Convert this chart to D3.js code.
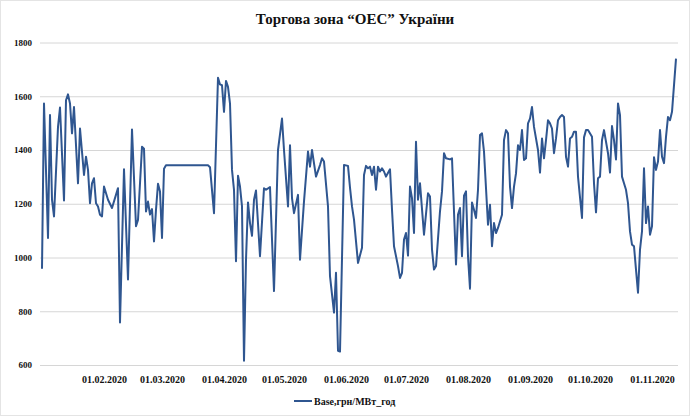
<!DOCTYPE html>
<html>
<head>
<meta charset=utf-8>
<title>Торгова зона ОЕС України</title>
<style>
body { margin: 0; background: #fff; }
svg { display: block; font-family: "Liberation Serif", "DejaVu Serif", serif; font-weight: bold; }
</style>
</head>
<body>
<div id="chart"></div>
<script src="https://d3js.org/d3.v7.min.js"></script>
<script>
const title = "Торгова зона “ОЕС” України"
const seriesName = "Base,грн/МВт_год"
const startDate = "01.01.2020"
const endDay = 317

// day number counted from 01.01.2020, taken at each turn of the line
const days = [
    0, 1, 3, 4, 5, 6, 8, 9, 11, 12,
    13, 14, 15, 16, 18, 19, 21, 22, 23, 24,
    25, 26, 27, 28, 29, 30, 31, 33, 35, 38,
    39, 41, 43, 45, 47, 48, 50, 51, 52, 53,
    54, 55, 56, 57, 58, 59, 60, 61, 62, 83,
    84, 86, 88, 89, 90, 91, 92, 93, 94, 95,
    96, 97, 98, 99, 100, 101, 102, 103, 104, 105,
    106, 107, 109, 111, 112, 114, 116, 118, 120, 121,
    123, 124, 125, 126, 128, 129, 131, 133, 134, 135,
    137, 139, 140, 141, 143, 144, 146, 147, 148, 149,
    151, 153, 154, 155, 156, 158, 160, 161, 162, 163,
    164, 165, 166, 167, 168, 169, 170, 171, 172, 174,
    175, 176, 178, 179, 180, 181, 182, 183, 184, 185,
    186, 187, 188, 189, 191, 193, 194, 195, 196, 197,
    199, 200, 201, 202, 204, 205, 207, 208, 209, 210,
    211, 212, 213, 214, 215, 216, 217, 218, 219, 220,
    221, 223, 224, 225, 226, 227, 228, 230, 231, 232,
    233, 234, 235, 236, 237, 238, 239, 240, 241, 242,
    243, 244, 245, 246, 248, 249, 250, 251, 252, 253,
    254, 255, 256, 257, 258, 259, 260, 261, 262, 263,
    264, 265, 266, 267, 268, 270, 271, 272, 273, 275,
    276, 277, 278, 279, 280, 281, 283, 284, 285, 286,
    287, 288, 289, 290, 291, 292, 293, 294, 295, 296,
    297, 298, 299, 300, 301, 302, 303, 304, 305, 306,
    307, 308, 309, 310, 311, 312, 313, 314, 315, 317
]
const base = [
    958, 1573, 1073, 1530, 1215, 1153, 1486, 1558, 1212, 1585,
    1607, 1573, 1462, 1560, 1276, 1480, 1307, 1375, 1326, 1202,
    1276, 1295, 1202, 1190, 1159, 1153, 1264, 1215, 1184, 1258,
    758, 1328, 918, 1476, 1116, 1140, 1412, 1405, 1171, 1208,
    1160, 1180, 1060, 1178, 1274, 1246, 1073, 1330, 1343, 1343,
    1336, 1165, 1669, 1644, 1641, 1542, 1657, 1635, 1573, 1326,
    1252, 986, 1304, 1264, 1190, 616, 992, 1205, 1128, 1081,
    1215, 1249, 1005, 1258, 1252, 1262, 875, 1400, 1517, 1400,
    1190, 1418, 1221, 1165, 1233, 992, 1209, 1394, 1338, 1400,
    1301, 1344, 1369, 1357, 1190, 931, 795, 943, 653, 650,
    1344, 1341, 1260, 1190, 1141, 980, 1036, 1307, 1341, 1332,
    1338, 1307, 1338, 1252, 1338, 1320, 1332, 1320, 1301, 1328,
    1178, 1042, 968, 924, 943, 1067, 1091, 1007, 1264, 1221,
    1091, 1431, 1215, 1276, 1085, 1239, 1227, 1030, 955, 968,
    1172, 1246, 1388, 1369, 1365, 1369, 974, 1160, 1184, 1005,
    1230, 1246, 1005, 884, 1205, 1178, 1147, 1252, 1456, 1462,
    1394, 1122, 1196, 1042, 1128, 1091, 1110, 1159, 1437, 1474,
    1462, 1264, 1184, 1264, 1313, 1418, 1400, 1474, 1363, 1369,
    1499, 1517, 1560, 1486, 1400, 1316, 1443, 1369, 1437, 1511,
    1499, 1480, 1388, 1443, 1511, 1523, 1530, 1523, 1375, 1338,
    1443, 1449, 1468, 1468, 1301, 1147, 1447, 1474, 1474, 1449,
    1276, 1168, 1295, 1301, 1437, 1474, 1388, 1316, 1489, 1437,
    1365, 1573, 1530, 1301, 1276, 1252, 1202, 1097, 1048, 1042,
    955, 869, 1029, 1097, 1332, 1128, 1190, 1085, 1116, 1373,
    1326, 1357, 1474, 1375, 1351, 1449, 1523, 1511, 1542, 1740
]
const yTicks = [600, 800, 1000, 1200, 1400, 1600, 1800]
const monthTicks = ["01.02.2020", "01.03.2020", "01.04.2020", "01.05.2020", "01.06.2020",
    "01.07.2020", "01.08.2020", "01.09.2020", "01.10.2020", "01.11.2020"]

const width = 690
const height = 419
const margin = {top: 42.5, right: 14, bottom: 54, left: 42}

const parse = d3.timeParse("%d.%m.%Y")
const start = parse(startDate)

const x = d3.scaleTime()
    .domain([start, d3.timeDay.offset(start, endDay)])
    .range([margin.left, width - margin.right])
const y = d3.scaleLinear()
    .domain([600, 1800])
    .range([height - margin.bottom, margin.top])

const svg = d3.select("#chart").append("svg")
    .attr("width", width)
    .attr("height", height)

svg.append("rect")
    .attr("x", 0.5).attr("y", 0.5)
    .attr("width", width - 1).attr("height", height - 4)
    .attr("fill", "#fff")
    .attr("stroke", "#e4e4e4")

svg.append("text")
    .attr("x", 355)
    .attr("y", 24)
    .attr("text-anchor", "middle")
    .style("font-size", "15px")
    .attr("fill", "#111")
    .text(title)

// gridlines + y labels
const yAxis = svg.append("g")
    .attr("transform", `translate(${margin.left - 2},0)`)
    .call(d3.axisLeft(y).tickValues(yTicks).tickSize(-(width - margin.left - margin.right + 4)).tickPadding(8).tickFormat(d3.format("d")))
yAxis.select(".domain").remove()
yAxis.selectAll(".tick line").attr("stroke", "#d6d6d6").attr("stroke-width", 1)
yAxis.selectAll(".tick text")
    .style("font-size", "9px")
    .style("font-family", "Liberation Serif, serif")
    .style("font-weight", "bold")
    .attr("fill", "#111")

// month labels
const xAxis = svg.append("g")
    .attr("transform", `translate(0,${height - margin.bottom})`)
    .call(d3.axisBottom(x).tickValues(monthTicks.map(parse)).tickSize(0).tickPadding(11).tickFormat(d3.timeFormat("%d.%m.%Y")))
xAxis.select(".domain").remove()
xAxis.selectAll(".tick text")
    .style("font-size", "10px")
    .style("font-family", "Liberation Serif, serif")
    .style("font-weight", "bold")
    .attr("fill", "#111")

const points = days.map((d, i) => ({date: d3.timeDay.offset(start, d), value: base[i]}))

const line = d3.line()
    .x(d => x(d.date))
    .y(d => y(d.value))

svg.append("path")
    .datum(points)
    .attr("fill", "none")
    .attr("stroke", "#2f5690")
    .attr("stroke-width", 2)
    .attr("stroke-linejoin", "round")
    .attr("d", line)

// legend
const legend = svg.append("g").attr("transform", "translate(294,401)")
legend.append("line")
    .attr("x1", 0).attr("x2", 18)
    .attr("y1", 0).attr("y2", 0)
    .attr("stroke", "#2f5690")
    .attr("stroke-width", 2)
legend.append("text")
    .attr("x", 20)
    .attr("y", 3.5)
    .style("font-size", "10px")
    .attr("fill", "#111")
    .text(seriesName)
</script>
</body>
</html>
